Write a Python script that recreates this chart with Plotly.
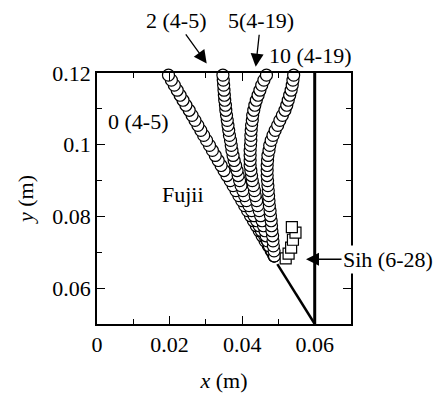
import plotly.graph_objects as go

FONT = "Liberation Serif, Times New Roman, serif"

# circle-series positions (top of the frame down to the apex)
y_grid = [0.1194, 0.1180, 0.1166, 0.1152, 0.1138, 0.1124, 0.1110, 0.1096, 0.1082,
          0.1068, 0.1054, 0.1040, 0.1026, 0.1012, 0.0998, 0.0984, 0.0970, 0.0956,
          0.0942, 0.0928, 0.0914, 0.0900, 0.0886, 0.0872, 0.0858, 0.0844, 0.0830,
          0.0816, 0.0802, 0.0788, 0.0774, 0.0760, 0.0746, 0.0732, 0.0718, 0.0704,
          0.0690]

x_s0 = [0.0197, 0.0205, 0.0213, 0.0221, 0.0229, 0.0237, 0.0245, 0.0254, 0.0262,
        0.0270, 0.0278, 0.0286, 0.0294, 0.0302, 0.0310, 0.0318, 0.0326, 0.0334,
        0.0342, 0.0350, 0.0358, 0.0367, 0.0375, 0.0383, 0.0391, 0.0399, 0.0407,
        0.0415, 0.0423, 0.0431, 0.0439, 0.0447, 0.0455, 0.0463, 0.0472, 0.0480,
        0.0488]

x_s2 = [0.0347, 0.0348, 0.0349, 0.0350, 0.0351, 0.0352, 0.0354, 0.0355, 0.0357,
        0.0359, 0.0361, 0.0363, 0.0365, 0.0368, 0.0370, 0.0372, 0.0375, 0.0378,
        0.0382, 0.0386, 0.0389, 0.0393, 0.0397, 0.0402, 0.0407, 0.0412, 0.0419,
        0.0426, 0.0433, 0.0440, 0.0447, 0.0453, 0.0462, 0.0469, 0.0475, 0.0482,
        0.0488]

x_s5 = [0.0467, 0.0460, 0.0454, 0.0449, 0.0444, 0.0439, 0.0435, 0.0432, 0.0429,
        0.0428, 0.0426, 0.0425, 0.0424, 0.0424, 0.0423, 0.0422, 0.0422, 0.0422,
        0.0422, 0.0424, 0.0426, 0.0428, 0.0431, 0.0434, 0.0436, 0.0440, 0.0443,
        0.0447, 0.0451, 0.0455, 0.0459, 0.0463, 0.0466, 0.0470, 0.0475, 0.0482,
        0.0488]

x_s10 = [0.0542, 0.0540, 0.0538, 0.0535, 0.0531, 0.0527, 0.0523, 0.0518, 0.0511,
         0.0504, 0.0498, 0.0491, 0.0485, 0.0480, 0.0476, 0.0474, 0.0471, 0.0470,
         0.0469, 0.0469, 0.0469, 0.0470, 0.0471, 0.0472, 0.0473, 0.0474, 0.0475,
         0.0477, 0.0478, 0.0480, 0.0481, 0.0482, 0.0484, 0.0485, 0.0486, 0.0488,
         0.0489]

# open squares
sq_x = [0.0537, 0.0547, 0.0540, 0.0535, 0.0528, 0.0520]
sq_y = [0.0770, 0.0755, 0.0735, 0.0713, 0.0696, 0.0683]

# Sih (6-28) lines
sih_vert_x = [0.06, 0.06]
sih_vert_y = [0.05, 0.12]
sih_diag_x = [0.0497, 0.06]
sih_diag_y = [0.0667, 0.05]

x_tickvals = [0, 0.02, 0.04, 0.06]
x_ticktext = ["0", "0.02", "0.04", "0.06"]
x_minor = [0.01, 0.03, 0.05]
y_tickvals = [0.06, 0.08, 0.1, 0.12]
y_ticktext = ["0.06", "0.08", "0.1", "0.12"]
y_minor = [0.07, 0.09, 0.11]

fig = go.Figure()

fig.add_trace(go.Scatter(x=sih_vert_x, y=sih_vert_y, mode="lines",
                         line=dict(color="black", width=3), cliponaxis=False))
fig.add_trace(go.Scatter(x=sih_diag_x, y=sih_diag_y, mode="lines",
                         line=dict(color="black", width=2.5), cliponaxis=False))

for xs in (x_s0, x_s2, x_s5, x_s10):
    fig.add_trace(go.Scatter(
        x=list(reversed(xs)), y=list(reversed(y_grid)), mode="markers",
        marker=dict(symbol="circle", size=12, color="white",
                    line=dict(color="black", width=1.2)),
        cliponaxis=False))

fig.add_trace(go.Scatter(
    x=list(reversed(sq_x)), y=list(reversed(sq_y)), mode="markers",
    marker=dict(symbol="square", size=11, color="white",
                line=dict(color="black", width=1.2)),
    cliponaxis=False))

axis_common = dict(
    showline=True, linecolor="black", linewidth=1.8, mirror="allticks",
    ticks="inside", ticklen=8, tickwidth=1.2, tickcolor="black",
    showgrid=False, zeroline=False,
    tickfont=dict(family=FONT, size=22, color="black"),
)

fig.update_layout(
    width=433, height=393,
    margin=dict(l=89, r=90, t=65, b=75),
    paper_bgcolor="white", plot_bgcolor="white",
    showlegend=False,
    font=dict(family=FONT, size=22, color="black"),
    xaxis=dict(range=[0, 0.07], tickmode="array", tickvals=x_tickvals,
               ticktext=x_ticktext,
               minor=dict(tickmode="array", tickvals=x_minor, ticks="inside",
                          ticklen=5, tickwidth=1.2, tickcolor="black"),
               title=dict(text="<i>x</i> (m)", standoff=16,
                          font=dict(family=FONT, size=22)),
               **axis_common),
    yaxis=dict(range=[0.05, 0.12], tickmode="array", tickvals=y_tickvals,
               ticktext=y_ticktext,
               minor=dict(tickmode="array", tickvals=y_minor, ticks="inside",
                          ticklen=5, tickwidth=1.2, tickcolor="black"),
               title=dict(text="<i>y</i> (m)", standoff=13,
                          font=dict(family=FONT, size=22)),
               **axis_common),
)

ann_font = dict(family=FONT, size=22, color="black")
arrow_style = dict(arrowhead=2, arrowsize=2.0, arrowwidth=1.3, arrowcolor="black")
fig.add_annotation(x=0.03023 / 0.07, y=1.0383, xref="paper", yref="paper",
                   text="2 (4-5)", showarrow=True, ax=-31, ay=-43,
                   xanchor="center", yanchor="middle", font=ann_font, **arrow_style)
fig.add_annotation(x=0.04374 / 0.07, y=1.0249, xref="paper", yref="paper",
                   text="5(4-19)", showarrow=True, ax=5, ay=-46,
                   xanchor="center", yanchor="middle", font=ann_font, **arrow_style)
fig.add_annotation(x=0.8386, y=1.0711, xref="paper", yref="paper",
                   xanchor="center", yanchor="middle",
                   text="10 (4-19)", showarrow=False, font=ann_font)
fig.add_annotation(x=0.01138, y=0.10652, text="0 (4-5)", showarrow=False,
                   xanchor="center", yanchor="middle", font=ann_font)
fig.add_annotation(x=0.0237, y=0.08624, text="Fujii", showarrow=False,
                   xanchor="center", yanchor="middle", font=ann_font)
fig.add_annotation(x=0.0576, y=0.06806, text="Sih (6-28)", showarrow=True,
                   ax=82, ay=0, bgcolor="white",
                   xanchor="center", yanchor="middle", font=ann_font, **arrow_style)

fig.write_html("out.html")
